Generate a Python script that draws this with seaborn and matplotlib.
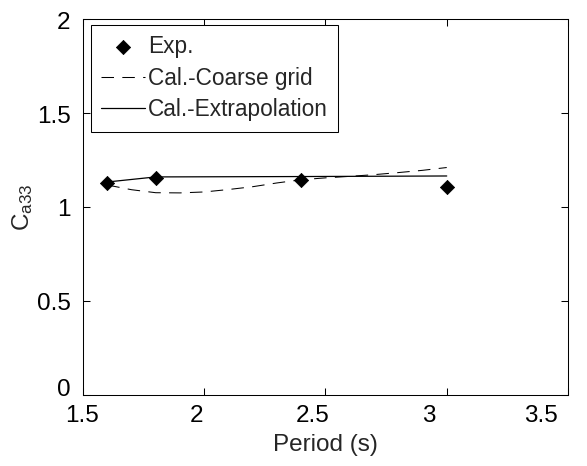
import pandas as pd
import seaborn as sns
import matplotlib.pyplot as plt
import matplotlib.transforms as mtransforms

# experimental points
exp_period = [1.6, 1.8, 2.4, 3.0]
exp_ca33 = [1.13, 1.153, 1.144, 1.105]

# coarse grid calculation (dashed)
coarse_period = [1.6, 1.7, 1.8, 1.9, 2.0, 2.1, 2.2, 2.3, 2.4, 2.5, 2.6, 2.7, 2.8, 2.9, 3.0]
coarse_ca33 = [1.117, 1.092, 1.076, 1.075, 1.080, 1.093, 1.108, 1.128, 1.145, 1.155,
               1.163, 1.172, 1.183, 1.195, 1.21]

# extrapolation calculation (solid)
extra_period = [1.6, 1.8, 2.4, 3.0]
extra_ca33 = [1.133, 1.16, 1.162, 1.165]

xticks = [1.5, 2, 2.5, 3, 3.5]
xticklabels = ['1.5', '2', '2.5', '3', '3.5']
yticks = [0, 0.5, 1, 1.5, 2]
yticklabels = ['0', '0.5', '1', '1.5', '2']

sns.set_style("ticks")
plt.rcParams['font.family'] = ['Liberation Sans', 'DejaVu Sans']
plt.rcParams['mathtext.fontset'] = 'custom'
plt.rcParams['mathtext.rm'] = 'Liberation Sans'
plt.rcParams['mathtext.it'] = 'Liberation Sans'

fs = 17.5
fig = plt.figure(figsize=(5.87, 4.66), dpi=100)
ax = fig.add_axes([0.1414, 0.1524, 0.8262, 0.8068])

sns.lineplot(x=coarse_period, y=coarse_ca33, ax=ax, color='black', lw=0.75,
             linestyle=(0, (12, 8)), label='Cal.-Coarse grid')
sns.lineplot(x=extra_period, y=extra_ca33, ax=ax, color='black', lw=0.9,
             label='Cal.-Extrapolation')
sns.scatterplot(x=exp_period, y=exp_ca33, ax=ax, marker='D', s=52, color='black',
                edgecolor='black', zorder=5, label='Exp.')

ax.set_xlim(1.5, 3.5)
ax.set_ylim(0, 2)
ax.set_xticks(xticks)
ax.set_xticklabels(xticklabels)
ax.set_yticks(yticks)
ax.set_yticklabels(yticklabels)
ax.tick_params(direction='in', length=5, width=0.75, top=True, right=True,
               labelsize=fs, colors='black')
ax.tick_params(axis='x', pad=7)
ax.tick_params(axis='y', pad=9)
for s in ax.spines.values():
    s.set_linewidth(0.75)
    s.set_color('black')

# tick labels in the original sit slightly off their ticks
x_shift = [-1, -7.5, -13, -18, -27]
y_shift = [7, -1, -1, -1, -1]
for lab, dx in zip(ax.get_xticklabels(), x_shift):
    lab.set_transform(lab.get_transform() + mtransforms.ScaledTranslation(dx / 100, 0, fig.dpi_scale_trans))
for lab, dy in zip(ax.get_yticklabels(), y_shift):
    lab.set_transform(lab.get_transform() + mtransforms.ScaledTranslation(0, dy / 100, fig.dpi_scale_trans))

ax.set_xlabel('Period (s)', fontsize=fs, labelpad=5)
ax.set_ylabel(r'C$_{\mathrm{a33}}$', fontsize=fs, labelpad=1)

handles, labels = ax.get_legend_handles_labels()
order = [labels.index('Exp.'), labels.index('Cal.-Coarse grid'), labels.index('Cal.-Extrapolation')]
leg = ax.legend([handles[i] for i in order], [labels[i] for i in order],
                loc='upper left', bbox_to_anchor=(0.0165, 0.984), borderaxespad=0,
                fontsize=16.3, frameon=True, fancybox=False, framealpha=1,
                edgecolor='black', handlelength=1.95, handletextpad=0.12,
                labelspacing=0.38, borderpad=0.45)
leg.get_frame().set_linewidth(0.75)

plt.savefig("out.png", dpi=100)
plt.close()
